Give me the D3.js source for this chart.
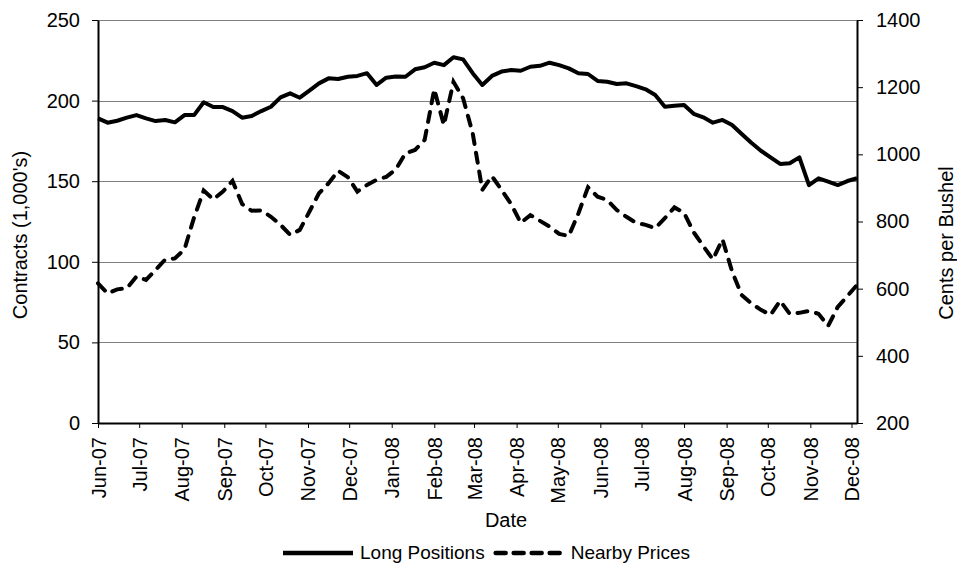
<!DOCTYPE html>
<html>
<head>
<meta charset="utf-8">
<script src="https://cdn.jsdelivr.net/npm/d3@7"></script>
<style>
  body { margin: 0; background: #fff; }
  svg text { font-family: "Liberation Sans", Arial, sans-serif; fill: #000; }
</style>
</head>
<body>
<div id="chart"></div>
<script>
// weekly report dates
var weeks = [
  "2007-06-01","2007-06-08","2007-06-15","2007-06-22","2007-06-29",
  "2007-07-06","2007-07-13","2007-07-20","2007-07-27",
  "2007-08-03","2007-08-10","2007-08-17","2007-08-24","2007-08-31",
  "2007-09-07","2007-09-14","2007-09-21","2007-09-28",
  "2007-10-05","2007-10-12","2007-10-19","2007-10-26",
  "2007-11-02","2007-11-09","2007-11-16","2007-11-23","2007-11-30",
  "2007-12-07","2007-12-14","2007-12-21","2007-12-28",
  "2008-01-04","2008-01-11","2008-01-18","2008-01-25",
  "2008-02-01","2008-02-08","2008-02-15","2008-02-22","2008-02-29",
  "2008-03-07","2008-03-14","2008-03-21","2008-03-28",
  "2008-04-04","2008-04-11","2008-04-18","2008-04-25",
  "2008-05-02","2008-05-09","2008-05-16","2008-05-23","2008-05-30",
  "2008-06-06","2008-06-13","2008-06-20","2008-06-27",
  "2008-07-04","2008-07-11","2008-07-18","2008-07-25",
  "2008-08-01","2008-08-08","2008-08-15","2008-08-22","2008-08-29",
  "2008-09-05","2008-09-12","2008-09-19","2008-09-26",
  "2008-10-03","2008-10-10","2008-10-17","2008-10-24","2008-10-31",
  "2008-11-07","2008-11-14","2008-11-21","2008-11-28",
  "2008-12-05"
]

// Long Positions, contracts (1,000's)
var longPositions = [189, 186.3, 187.5, 189.4, 191, 189, 187.3, 188, 186.5, 191,
  191, 199, 196, 196, 193.5, 189.4, 190.5, 193.5, 196.2, 202,
  204.5, 201.8, 206.2, 210.7, 213.8, 213.4, 214.8, 215.3, 217, 209.7,
  214.2, 215, 214.8, 219.4, 220.7, 223.5, 222, 226.9, 225.6, 217,
  209.7, 215.3, 218, 219, 218.5, 221, 221.6, 223.5, 222, 220,
  217, 216.5, 212.2, 211.7, 210.3, 210.7, 209, 207, 203.5, 196.2,
  196.8, 197.3, 191.8, 189.6, 186.3, 188, 184.9, 179.3, 173.9, 168.9,
  164.8, 160.7, 161.1, 164.8, 147.6, 151.8, 149.7, 147.6, 150.1, 151.8]

// Nearby Prices, cents per bushel
var nearbyPrices = [616, 586, 598, 601, 636, 626, 656, 687, 690, 717,
  812, 892, 866, 889, 921, 852, 832, 833, 814, 790,
  760, 775, 829, 884, 914, 951, 932, 889, 909, 924,
  933, 955, 1003, 1013, 1043, 1194, 1087, 1216, 1167, 1063,
  894, 935, 894, 852, 796, 819, 802, 785, 763, 757,
  824, 902, 874, 864, 834, 814, 796, 790, 780, 810,
  842, 826, 768, 727, 687, 747, 651, 581, 556, 537,
  522, 564, 525, 528, 534, 525, 489, 546, 578, 611]

var leftTicks = [0, 50, 100, 150, 200, 250]
var rightTicks = [200, 400, 600, 800, 1000, 1200, 1400]
var seriesNames = ["Long Positions", "Nearby Prices"]

drawchart()
function drawchart() {
  var width = 957, height = 568
  var pLeft = 98, pRight = 857, pTop = 20, pBottom = 423

  var parse = d3.timeParse("%Y-%m-%d")
  var dates = weeks.map(parse)

  var svg = d3.select("#chart").append("svg")
    .attr("width", width)
    .attr("height", height)

  var x = d3.scaleTime()
    .domain([dates[0], dates[dates.length - 1]])
    .range([pLeft, pRight])
  var yL = d3.scaleLinear().domain([0, 250]).range([pBottom, pTop])
  var yR = d3.scaleLinear().domain([200, 1400]).range([pBottom, pTop])

  // gridlines
  svg.append("g")
    .selectAll("line")
    .data(leftTicks)
    .enter().append("line")
    .attr("x1", pLeft).attr("x2", pRight)
    .attr("y1", d => Math.round(yL(d)) + 0.5)
    .attr("y2", d => Math.round(yL(d)) + 0.5)
    .attr("stroke", "#808080")
    .attr("stroke-width", 1)

  // left axis
  var gl = svg.append("g")
    .attr("transform", `translate(${pLeft},0)`)
    .call(d3.axisLeft(yL).tickValues(leftTicks).tickSize(6).tickSizeOuter(0).tickPadding(12))
  gl.selectAll("text").style("font-size", "20px")

  // right axis
  var gr = svg.append("g")
    .attr("transform", `translate(${pRight},0)`)
    .call(d3.axisRight(yR).tickValues(rightTicks).tickSize(6).tickSizeOuter(0).tickPadding(13)
      .tickFormat(d3.format("d")))
  gr.selectAll("text").style("font-size", "20px")

  // bottom axis
  var months = d3.timeMonth.range(new Date(2007, 5, 1), new Date(2008, 11, 2))
  var gb = svg.append("g")
    .attr("transform", `translate(0,${pBottom})`)
    .call(d3.axisBottom(x).tickValues(months).tickSize(5).tickSizeOuter(0).tickFormat(d3.timeFormat("%b-%y")))
  gb.selectAll("text")
    .style("font-size", "20px")
    .attr("text-anchor", "end")
    .attr("y", 0)
    .attr("dy", "0.35em")
    .attr("transform", "translate(0,14) rotate(-90)")

  svg.selectAll(".domain").attr("stroke", "#000").attr("stroke-width", 2)
  svg.selectAll(".tick line").attr("stroke", "#000")

  // lines
  var lineL = d3.line()
    .x((d, i) => x(dates[i]))
    .y(d => yL(d))
  var lineR = d3.line()
    .x((d, i) => x(dates[i]))
    .y(d => yR(d))

  svg.append("path")
    .datum(longPositions)
    .attr("d", lineL)
    .attr("fill", "none")
    .attr("stroke", "#000")
    .attr("stroke-width", 4)
    .attr("stroke-linejoin", "round")

  svg.append("path")
    .datum(nearbyPrices)
    .attr("d", lineR)
    .attr("fill", "none")
    .attr("stroke", "#000")
    .attr("stroke-width", 4)
    .attr("stroke-linecap", "round")
    .attr("stroke-dasharray", "10,9")

  // axis titles
  svg.append("text")
    .attr("transform", "translate(27,235) rotate(-90)")
    .attr("text-anchor", "middle")
    .style("font-size", "20px")
    .text("Contracts (1,000's)")

  svg.append("text")
    .attr("transform", "translate(953,243) rotate(-90)")
    .attr("text-anchor", "middle")
    .style("font-size", "20px")
    .text("Cents per Bushel")

  svg.append("text")
    .attr("x", 506)
    .attr("y", 527)
    .attr("text-anchor", "middle")
    .style("font-size", "20px")
    .text("Date")

  // legend
  var lg = svg.append("g")
  var lx = 283, ly = 553
  seriesNames.forEach(function(name, i) {
    var line = lg.append("line")
      .attr("x1", lx).attr("x2", lx + 70)
      .attr("y1", ly).attr("y2", ly)
      .attr("stroke", "#000")
      .attr("stroke-width", 4.5)
    if (i == 1) {
      line.attr("stroke-dasharray", "10,8").attr("stroke-linecap", "round")
        .attr("x1", lx + 2).attr("x2", lx + 68)
    }
    var t = lg.append("text")
      .attr("x", lx + 77)
      .attr("y", ly + 6)
      .style("font-size", "19px")
      .text(name)
    lx = lx + 77 + t.node().getComputedTextLength() + 9
  })
}
</script>
</body>
</html>
